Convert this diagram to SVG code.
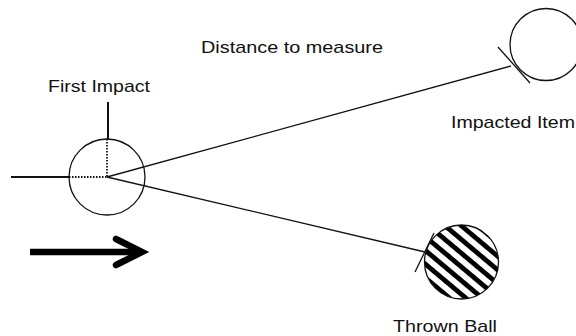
<svg xmlns="http://www.w3.org/2000/svg" width="576" height="336" viewBox="0 0 576 336">
<style>
.lbl{font-family:"Liberation Sans",Arial,sans-serif;font-size:17px;fill:#111}
.thin{stroke:#111;stroke-width:1.3;fill:none}
.med{stroke:#111;stroke-width:2;fill:none}
.dot{stroke:#111;stroke-width:1.8;stroke-dasharray:1.5 1.5;fill:none}
</style>
<defs>
<pattern id="hatch" patternUnits="userSpaceOnUse" width="10.5" height="10.5" patternTransform="rotate(40)">
<rect x="0" y="0" width="10.5" height="4.8" fill="#000"/>
</pattern>
</defs>
<rect width="576" height="336" fill="#fff"/>
<g id="connectors">
<line class="thin" x1="107" y1="177" x2="511" y2="66"/>
<line class="thin" x1="107" y1="177" x2="425" y2="252"/>
</g>
<g id="first-impact">
<circle class="thin" cx="107" cy="177" r="38"/>
<line class="med" x1="108" y1="102" x2="108" y2="139"/>
<line class="med" x1="11" y1="177" x2="69" y2="177"/>
<line class="dot" x1="107" y1="139" x2="107" y2="177"/>
<line class="dot" x1="69" y1="177" x2="107" y2="177"/>
<text class="lbl" x="48" y="91.5" textLength="102" lengthAdjust="spacingAndGlyphs">First Impact</text>
</g>
<g id="impacted-item">
<circle class="thin" cx="546" cy="44.5" r="36"/>
<line class="thin" x1="498" y1="47" x2="530" y2="83"/>
<text class="lbl" x="451" y="127.5" textLength="124" lengthAdjust="spacingAndGlyphs">Impacted Item</text>
</g>
<g id="thrown-ball">
<circle cx="461.5" cy="262" r="37" fill="url(#hatch)" stroke="#111" stroke-width="1.3"/>
<line class="thin" x1="434" y1="233" x2="415" y2="272"/>
<text class="lbl" x="393" y="331.5" textLength="104" lengthAdjust="spacingAndGlyphs">Thrown Ball</text>
</g>
<g id="distance-label">
<text class="lbl" x="201" y="52.5" textLength="182" lengthAdjust="spacingAndGlyphs">Distance to measure</text>
</g>
<g id="direction-arrow">
<line x1="30" y1="252" x2="140" y2="252" stroke="#000" stroke-width="6.5"/>
<polyline points="116,239 142,252 116,265" fill="none" stroke="#000" stroke-width="6.5" stroke-linecap="round" stroke-linejoin="miter"/>
</g>
</svg>
